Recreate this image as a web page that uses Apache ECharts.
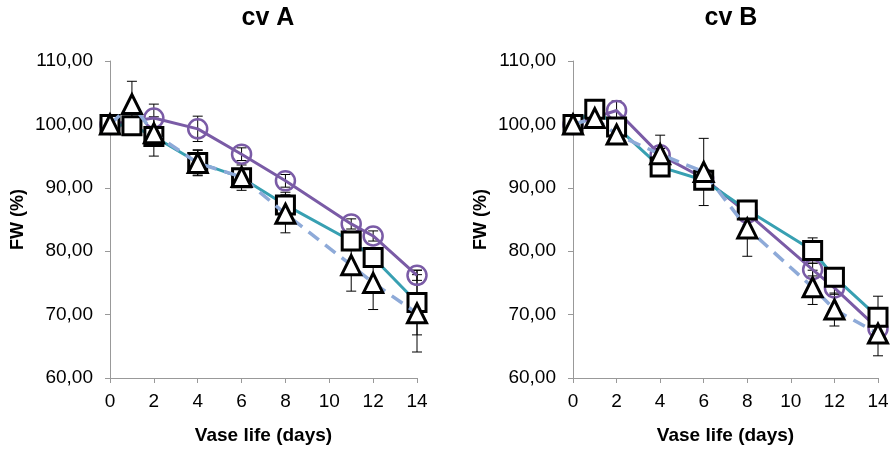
<!DOCTYPE html>
<html>
<head>
<meta charset="utf-8">
<script src="https://cdn.jsdelivr.net/npm/echarts@6/dist/echarts.min.js"></script>
<style>
  html, body { margin: 0; padding: 0; background: #fff; }
  #main { width: 893px; height: 450px; }
</style>
</head>
<body>
<div id="main"></div>
<script>
// vase life days
var days = [0, 1, 2, 4, 6, 8, 11, 12, 14]
var daysCircle = [0, 2, 4, 6, 8, 11, 12, 14]
var yTicks = [60, 70, 80, 90, 100, 110]

// cv A
var aCircle = [100, 101.0, 99.3, 95.3, 91.1, 84.3, 82.4, 76.2]
var aCircleErr = [0, 2.2, 2.0, 1.0, 1.0, 0.8, 0.8, 0.8]
var aSquare = [100, 99.8, 98.1, 94.0, 91.6, 87.3, 81.6, 79.0, 71.9]
var aSquareErr = [0, 0.5, 3.1, 2.0, 2.0, 2.0, 1.5, 1.5, 5.1]
var aTriangle = [100, 103.2, 98.6, 93.9, 91.7, 85.9, 77.8, 75.0, 70.2]
var aTriangleErr = [0, 3.6, 1.0, 2.0, 1.0, 3.0, 4.1, 4.2, 6.1]

// cv B
var bCircle = [100, 102.2, 95.2, 91.5, 86.0, 77.1, 74.2, 67.8]
var bCircleErr = [0, 1.5, 1.0, 1.0, 1.0, 1.0, 1.0, 1.0]
var bSquare = [100, 102.4, 99.6, 93.3, 91.2, 86.5, 80.1, 75.9, 69.6]
var bSquareErr = [0, 0.5, 0.5, 1.0, 1.0, 1.0, 2.0, 1.0, 3.3]
var bTriangle = [100, 101.0, 98.4, 95.3, 92.5, 83.6, 74.3, 70.8, 67.0]
var bTriangleErr = [0, 0.5, 0.5, 3.0, 5.3, 4.4, 2.7, 2.6, 3.5]

var purple = '#7a5ba6'
var teal = '#38a0b2'
var lightBlue = '#8eaad8'
var font = 'Liberation Sans, Arial, sans-serif'

function pairs (xs, ys) {
    return xs.map(function (x, i) { return [x, ys[i]] })
}

function errData (xs, ys, es) {
    return xs.map(function (x, i) { return [x, ys[i] - es[i], ys[i] + es[i]] })
}

// error bars as a custom series
function errSeries (idx, xs, ys, es) {
    return {
        type: 'custom',
        xAxisIndex: idx,
        yAxisIndex: idx,
        z: 1,
        data: errData(xs, ys, es),
        renderItem: function (params, api) {
            var lo = api.coord([api.value(0), api.value(1)])
            var hi = api.coord([api.value(0), api.value(2)])
            var w = 5
            var st = { stroke: '#000', lineWidth: 1 }
            return {
                type: 'group',
                children: [
                    { type: 'line', shape: { x1: lo[0], y1: lo[1], x2: hi[0], y2: hi[1] }, style: st },
                    { type: 'line', shape: { x1: lo[0] - w, y1: lo[1], x2: lo[0] + w, y2: lo[1] }, style: st },
                    { type: 'line', shape: { x1: hi[0] - w, y1: hi[1], x2: hi[0] + w, y2: hi[1] }, style: st }
                ]
            }
        }
    }
}

function lineSeries (idx, xs, ys, color, symbol, size, dashed, z) {
    return {
        type: 'line',
        xAxisIndex: idx,
        yAxisIndex: idx,
        data: pairs(xs, ys),
        symbol: symbol,
        symbolSize: size,
        z: z,
        lineStyle: { color: color, width: dashed ? 3.5 : 3, type: dashed ? [13, 8] : 'solid' },
        itemStyle: symbol === 'circle'
            ? { color: 'rgba(0,0,0,0)', borderColor: purple, borderWidth: 2.5 }
            : { color: '#fff', borderColor: '#000', borderWidth: 3 },
        emphasis: { disabled: true }
    }
}

function xAxis (idx) {
    return {
        type: 'value', gridIndex: idx, min: 0, max: 14, interval: 2,
        name: 'Vase life (days)', nameLocation: 'middle', nameGap: 48,
        nameTextStyle: { fontFamily: font, fontWeight: 'bold', fontSize: 19, color: '#000' },
        axisLine: { lineStyle: { color: '#999', width: 1 } },
        axisTick: { lineStyle: { color: '#999' }, length: 5 },
        axisLabel: { fontFamily: font, fontSize: 19, color: '#000', margin: 14 },
        splitLine: { show: false }
    }
}

function yAxis (idx) {
    return {
        type: 'value', gridIndex: idx, min: yTicks[0], max: yTicks[yTicks.length - 1], interval: 10,
        name: 'FW (%)', nameLocation: 'middle', nameGap: 83, nameRotate: 90,
        nameTextStyle: { fontFamily: font, fontWeight: 'bold', fontSize: 18, color: '#000' },
        axisLine: { show: true, lineStyle: { color: '#999', width: 1 } },
        axisTick: { show: true, lineStyle: { color: '#999' }, length: 5 },
        axisLabel: {
            fontFamily: font, fontSize: 19, color: '#000', margin: 17,
            formatter: function (v) { return v.toFixed(2).replace('.', ',') }
        },
        splitLine: { show: false }
    }
}

var option = {
    animation: false,
    backgroundColor: '#fff',
    title: [
        { text: 'cv A', left: 263, top: 1, textAlign: 'center',
          textStyle: { fontFamily: font, fontWeight: 'bold', fontSize: 25, color: '#000' } },
        { text: 'cv B', left: 726, top: 1, textAlign: 'center',
          textStyle: { fontFamily: font, fontWeight: 'bold', fontSize: 25, color: '#000' } }
    ],
    grid: [
        { left: 110, right: 476, top: 61, bottom: 70 },
        { left: 573, right: 15, top: 61, bottom: 69 }
    ],
    xAxis: [xAxis(0), xAxis(1)],
    yAxis: [yAxis(0), yAxis(1)],
    series: [
        errSeries(0, daysCircle, aCircle, aCircleErr),
        errSeries(0, days, aSquare, aSquareErr),
        errSeries(0, days, aTriangle, aTriangleErr),
        lineSeries(0, daysCircle, aCircle, purple, 'circle', 19, false, 2),
        lineSeries(0, days, aSquare, teal, 'rect', 18, false, 3),
        lineSeries(0, days, aTriangle, lightBlue, 'triangle', 19, true, 4),

        errSeries(1, daysCircle, bCircle, bCircleErr),
        errSeries(1, days, bSquare, bSquareErr),
        errSeries(1, days, bTriangle, bTriangleErr),
        lineSeries(1, daysCircle, bCircle, purple, 'circle', 19, false, 2),
        lineSeries(1, days, bSquare, teal, 'rect', 18, false, 3),
        lineSeries(1, days, bTriangle, lightBlue, 'triangle', 19, true, 4)
    ]
}

var myChart = echarts.init(document.getElementById('main'))
myChart.setOption(option)
</script>
</body>
</html>
